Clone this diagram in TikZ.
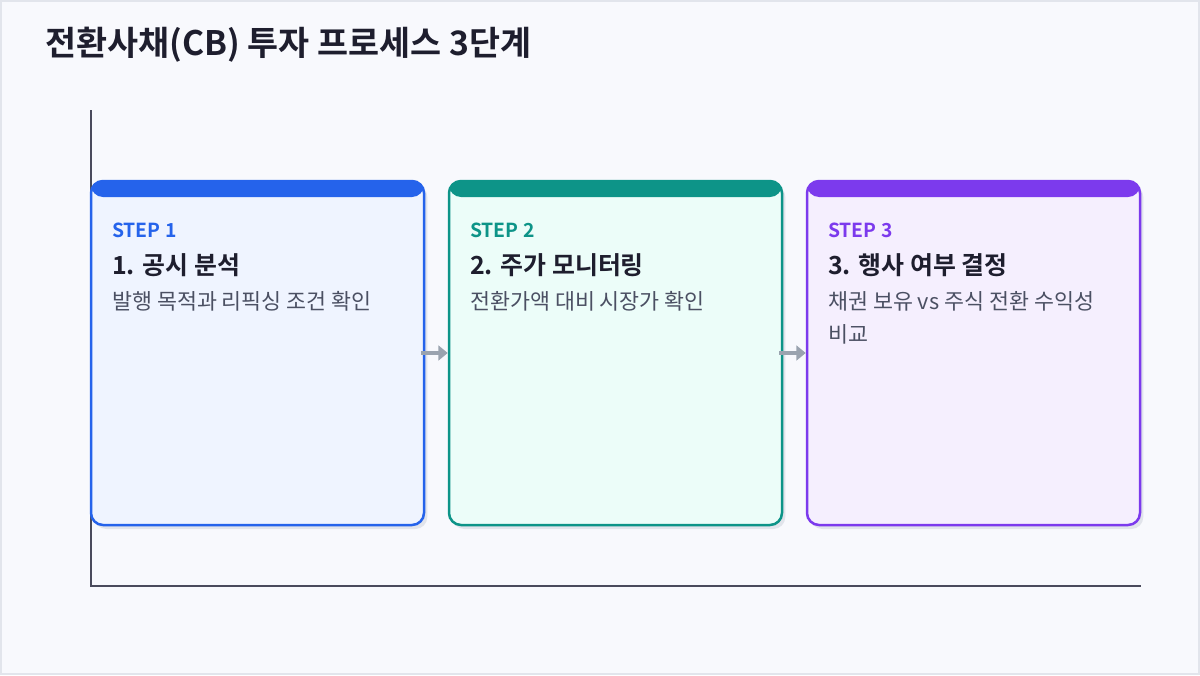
\documentclass[tikz,border=0pt]{standalone}
\usepackage{fontspec}
\setmainfont{Noto Sans CJK KR}
\newfontfamily\krbold{Noto Sans CJK KR Bold}
\usetikzlibrary{arrows.meta,shadows}
\definecolor{bgc}{HTML}{F8F9FD}
\definecolor{framec}{HTML}{E2E5EC}
\definecolor{axisc}{HTML}{4A4B5C}
\definecolor{arrc}{HTML}{9AA3AF}
\definecolor{titlec}{HTML}{1E1E2E}
\definecolor{descc}{HTML}{4B5063}
\definecolor{shadc}{HTML}{E1E4EB}
\definecolor{blueC}{HTML}{2563EB}
\definecolor{blueF}{HTML}{EFF4FF}
\definecolor{tealC}{HTML}{0D9488}
\definecolor{tealF}{HTML}{ECFDF9}
\definecolor{purpC}{HTML}{7C3AED}
\definecolor{purpF}{HTML}{F5EFFE}
\tikzset{
  card/.style 2 args={rectangle, rounded corners=9pt, minimum width=249.75pt, minimum height=258pt,
    line width=1.875pt, draw=#1, fill=#2,
    drop shadow={shadow xshift=2.5pt, shadow yshift=-3pt, fill=shadc, opacity=1},
    path picture={\fill[#1] (path picture bounding box.north west) rectangle ([yshift=-12pt]path picture bounding box.north east);}},
  steplbl/.style={anchor=west, inner sep=0pt, font=\krbold\fontsize{14.5pt}{16pt}\selectfont, text=#1},
  cardtitle/.style={anchor=west, inner sep=0pt, font=\krbold\fontsize{18.7pt}{21pt}\selectfont, text=titlec},
  carddesc/.style={anchor=base west, inner sep=0pt, align=left, font=\fontsize{16.3pt}{24.75pt}\selectfont, text=descc},
  flowarrow/.style={draw=arrc, line width=3.2pt, -{Triangle[length=7pt,width=11pt]}},
  axisline/.style={draw=axisc, line width=1.5pt}
}
\begin{document}
\begin{tikzpicture}[x=0.75pt,y=-0.75pt]
\useasboundingbox (0,0) rectangle (1200,675);
\fill[bgc] (0,0) rectangle (1200,675);
\draw[framec, line width=1.5pt] (1,1) rectangle (1199,674);
\node[anchor=west, inner sep=0pt, font=\krbold\fontsize{25.3pt}{28pt}\selectfont, text=titlec] (title) at (45,45) {전환사채(CB) 투자 프로세스 3단계};
\coordinate (ytop) at (91,110);
\coordinate (orig) at (91,586);
\coordinate (xend) at (1141,586);
\draw[axisline] (ytop) -- (orig) -- (xend);
\node[card={blueC}{blueF}] (c1) at (257.5,353) {};
\node[card={tealC}{tealF}] (c2) at (615.5,353) {};
\node[card={purpC}{purpF}] (c3) at (973.5,353) {};
\draw[flowarrow] ([xshift=-3pt]c1.east) -- (c2.west);
\draw[flowarrow] ([xshift=-3pt]c2.east) -- (c3.west);
\node[steplbl=blueC] (s1) at (112,230) {STEP 1};
\node[cardtitle] (t1) at (112,265) {1. 공시 분석};
\node[carddesc] (d1) at (112,309) {발행 목적과 리픽싱 조건 확인};
\node[steplbl=tealC] (s2) at (470,230) {STEP 2};
\node[cardtitle] (t2) at (470,265) {2. 주가 모니터링};
\node[carddesc] (d2) at (470,309) {전환가액 대비 시장가 확인};
\node[steplbl=purpC] (s3) at (828,230) {STEP 3};
\node[cardtitle] (t3) at (828,265) {3. 행사 여부 결정};
\node[carddesc] (d3) at (828,342) {채권 보유 vs 주식 전환 수익성\\비교};
\end{tikzpicture}
\end{document}
